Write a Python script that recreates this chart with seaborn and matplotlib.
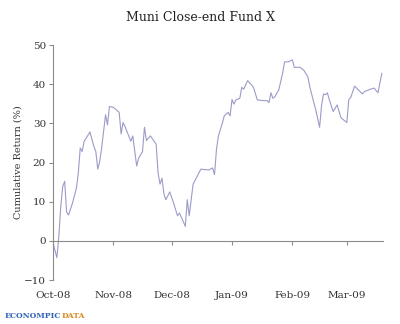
import matplotlib
matplotlib.use("Agg")
import matplotlib.pyplot as plt
import matplotlib.dates as mdates
import pandas as pd
import seaborn as sns

dates = [
    "2008-10-01", "2008-10-03", "2008-10-04", "2008-10-05", "2008-10-06", "2008-10-07",
    "2008-10-08", "2008-10-09", "2008-10-11", "2008-10-13", "2008-10-14", "2008-10-15",
    "2008-10-16", "2008-10-17", "2008-10-20", "2008-10-22", "2008-10-23", "2008-10-24",
    "2008-10-25", "2008-10-26", "2008-10-28", "2008-10-29", "2008-10-30", "2008-11-01",
    "2008-11-04", "2008-11-05", "2008-11-06", "2008-11-07", "2008-11-10", "2008-11-11",
    "2008-11-13", "2008-11-14", "2008-11-16", "2008-11-17", "2008-11-18", "2008-11-20",
    "2008-11-23", "2008-11-24", "2008-11-25", "2008-11-26", "2008-11-27", "2008-11-28",
    "2008-11-30", "2008-12-02", "2008-12-04", "2008-12-05", "2008-12-08", "2008-12-09",
    "2008-12-10", "2008-12-12", "2008-12-14", "2008-12-16", "2008-12-20", "2008-12-22",
    "2008-12-23", "2008-12-24", "2008-12-25", "2008-12-27", "2008-12-28", "2008-12-30",
    "2008-12-31", "2009-01-01", "2009-01-02", "2009-01-03", "2009-01-05", "2009-01-06",
    "2009-01-07", "2009-01-09", "2009-01-11", "2009-01-12", "2009-01-14", "2009-01-17",
    "2009-01-19", "2009-01-20", "2009-01-21", "2009-01-22", "2009-01-23", "2009-01-25",
    "2009-01-27", "2009-01-28", "2009-01-30", "2009-02-01", "2009-02-02", "2009-02-05",
    "2009-02-07", "2009-02-09", "2009-02-10", "2009-02-13", "2009-02-15", "2009-02-16",
    "2009-02-17", "2009-02-18", "2009-02-19", "2009-02-20", "2009-02-22", "2009-02-24",
    "2009-02-26", "2009-03-01", "2009-03-02", "2009-03-03", "2009-03-05", "2009-03-07",
    "2009-03-09", "2009-03-10", "2009-03-13", "2009-03-15", "2009-03-17", "2009-03-19",
]
returns = [
    -0.5, -4.3, 1.1, 8.8, 13.9, 15.2,
    7.3, 6.6, 9.6, 13.4, 17.3, 23.7,
    22.8, 25.4, 27.8, 24.1, 22.8, 18.3,
    20.3, 23.7, 32.2, 29.6, 34.3, 34.1,
    32.8, 27.3, 30.2, 29.2, 25.4, 26.8,
    19.1, 21.1, 22.8, 29.0, 25.6, 26.8,
    24.7, 17.3, 14.5, 16.0, 12.0, 10.5,
    12.5, 9.6, 6.4, 7.1, 3.7, 10.5,
    6.4, 14.5, 16.4, 18.3, 18.1, 18.6,
    16.9, 23.3, 26.8, 30.0, 31.9, 32.8,
    31.9, 36.1, 34.9, 36.0, 36.4, 39.2,
    38.7, 40.9, 39.8, 39.2, 36.0, 35.8,
    35.8, 35.3, 37.8, 36.4, 36.8, 38.5,
    42.8, 45.7, 45.7, 46.2, 44.3, 44.3,
    43.5, 41.8, 39.2, 33.5, 29.0, 34.5,
    37.5, 37.3, 37.8, 36.0, 33.0, 34.7,
    31.4, 30.2, 36.1, 36.6, 39.5, 38.5,
    37.5, 38.1, 38.7, 39.0, 37.8, 42.8,
]
month_ticks = ["2008-10-01", "2008-11-01", "2008-12-01", "2009-01-01", "2009-02-01", "2009-03-01"]
month_labels = ["Oct-08", "Nov-08", "Dec-08", "Jan-09", "Feb-09", "Mar-09"]
y_ticks = [-10, 0, 10, 20, 30, 40, 50]

sns.set_style("white")
serif = ["DejaVu Serif"]
plt.rcParams["font.family"] = serif

df = pd.DataFrame({"date": pd.to_datetime(dates), "ret": returns})

fig = plt.figure(figsize=(4.0, 3.24), dpi=100)
ax = fig.add_axes([0.1325, 0.1358, 0.825, 0.7253])

sns.lineplot(data=df, x="date", y="ret", ax=ax, color="#9b9bc9", linewidth=0.8)

ax.set_ylim(-10, 50)
ax.set_yticks(y_ticks)
ax.set_xlim(pd.Timestamp("2008-10-01"), pd.Timestamp("2009-03-19 14:00"))

for s in ["top", "right"]:
    ax.spines[s].set_visible(False)
ax.spines["left"].set_color("#8c8c8c")
ax.spines["left"].set_linewidth(0.8)
ax.spines["bottom"].set_position(("data", 0))
ax.spines["bottom"].set_color("#8c8c8c")
ax.spines["bottom"].set_linewidth(0.8)

tick_pos = mdates.date2num(pd.to_datetime(month_ticks))
ax.set_xticks(tick_pos)
ax.set_xticklabels([])
ax.tick_params(axis="x", direction="out", length=3, width=0.8, color="#8c8c8c", bottom=True)
ax.tick_params(axis="y", direction="out", length=3, width=0.8, color="#8c8c8c", left=True,
               labelsize=7.5, labelcolor="#333333", pad=2)

sec = ax.secondary_xaxis("bottom")
sec.set_xticks(tick_pos)
sec.set_xticklabels(month_labels)
sec.tick_params(length=0, labelsize=7.5, labelcolor="#333333", pad=8)
sec.spines["bottom"].set_visible(False)

ax.set_xlabel("")
ax.set_ylabel("Cumulative Return (%)", fontsize=7, color="#333333", labelpad=1)
fig.suptitle("Muni Close-end Fund X", x=0.5, y=0.965, fontsize=9, color="#222222")

t1 = fig.text(0.012, 0.018, "ECONOMPIC", fontsize=5.5, fontweight="bold", color="#2f62b5",
              family=["DejaVu Serif"])
ax.annotate("DATA", xy=(1, 0), xycoords=t1, fontsize=5.5, fontweight="bold", color="#d98b1e",
            family=["DejaVu Serif"], va="bottom", ha="left", annotation_clip=False)

fig.savefig("out.png", dpi=100)
